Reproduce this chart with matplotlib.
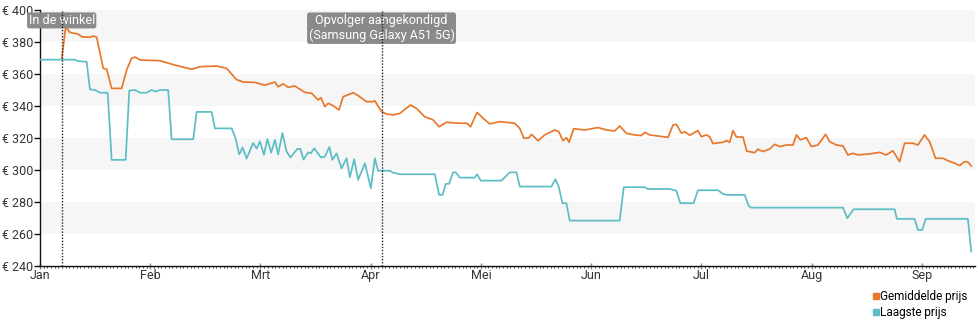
#!/usr/bin/env python3

import matplotlib as mpl
mpl.use('Agg')
import matplotlib.pyplot as plt
from matplotlib.lines import Line2D

#~~~~~~~~~~~~ Input ~~~~~~~~~~~~~~~~~~~~~~~

months = ['Jan', 'Feb', 'Mrt', 'Apr', 'Mei', 'Jun', 'Jul', 'Aug', 'Sep']
yticks = [240, 260, 280, 300, 320, 340, 360, 380, 400]

# time in months since 1 Jan (months drawn with equal width)
t_gem = [0.197, 0.233, 0.272, 0.347, 0.378, 0.453, 0.483, 0.514, 0.574, 0.605,
         0.650, 0.741, 0.786, 0.831, 0.861, 0.907, 1.013, 1.088, 1.224, 1.375,
         1.451, 1.602, 1.693, 1.783, 1.843, 1.949, 2.040, 2.131, 2.160, 2.206,
         2.251, 2.312, 2.403, 2.463, 2.523, 2.548, 2.584, 2.614, 2.659, 2.711,
         2.750, 2.840, 2.886, 2.962, 3.022, 3.037, 3.098, 3.143, 3.203, 3.264,
         3.361, 3.415, 3.490, 3.566, 3.620, 3.687, 3.808, 3.874, 3.905, 3.965,
         4.019, 4.080, 4.170, 4.306, 4.352, 4.388, 4.433, 4.458, 4.518, 4.578,
         4.669, 4.705, 4.744, 4.775, 4.799, 4.841, 4.941, 5.062, 5.138, 5.213,
         5.258, 5.319, 5.394, 5.455, 5.485, 5.530, 5.696, 5.742, 5.772, 5.818,
         5.848, 5.893, 5.968, 5.999, 6.044, 6.074, 6.104, 6.195, 6.226, 6.256,
         6.286, 6.317, 6.376, 6.410, 6.482, 6.512, 6.557, 6.618, 6.664, 6.709,
         6.770, 6.830, 6.861, 6.897, 6.951, 6.997, 7.056, 7.126, 7.162, 7.223,
         7.283, 7.328, 7.374, 7.419, 7.525, 7.616, 7.676, 7.736, 7.797, 7.842,
         7.917, 7.963, 8.023, 8.069, 8.123, 8.190, 8.235, 8.296, 8.341, 8.386,
         8.416, 8.447]
p_gem = [369.0, 389.6, 386.0, 385.0, 383.3, 383.0, 383.8, 383.0, 363.5, 363.0,
         351.0, 351.0, 362.5, 369.8, 370.6, 368.8, 368.5, 368.3, 365.6, 363.0,
         364.6, 365.0, 363.5, 356.5, 355.0, 354.8, 353.0, 355.0, 352.0, 353.8,
         351.7, 352.5, 348.5, 348.0, 343.8, 345.2, 339.6, 341.7, 340.2, 337.5,
         345.8, 348.3, 346.5, 342.7, 342.7, 343.3, 336.5, 335.0, 334.4, 335.4,
         340.6, 338.5, 333.3, 331.3, 327.0, 329.8, 329.2, 329.2, 327.0, 336.0,
         332.3, 328.8, 330.2, 329.2, 326.0, 319.8, 320.0, 322.3, 318.3, 321.9,
         325.0, 324.0, 318.3, 320.2, 317.3, 325.8, 325.0, 326.5, 325.0, 324.4,
         327.5, 322.9, 321.9, 321.5, 323.5, 321.9, 320.4, 328.1, 328.5, 323.0,
         323.9, 321.7, 324.6, 320.8, 321.9, 320.8, 316.5, 317.3, 318.3, 317.3,
         324.6, 320.6, 320.6, 311.8, 310.8, 313.0, 311.5, 313.1, 316.0, 314.6,
         315.6, 315.6, 321.9, 318.8, 320.2, 314.6, 315.6, 322.3, 317.7, 315.6,
         315.0, 309.4, 310.4, 309.4, 310.0, 311.0, 309.4, 312.0, 305.2, 316.7,
         316.7, 315.6, 321.9, 317.7, 307.3, 307.3, 305.8, 304.2, 302.7, 305.2,
         305.0, 302.5]

t_laag = [0.000, 0.317, 0.347, 0.423, 0.453, 0.499, 0.544, 0.614, 0.650, 0.777,
          0.810, 0.861, 0.907, 0.967, 1.013, 1.049, 1.088, 1.163, 1.194, 1.390,
          1.421, 1.557, 1.587, 1.738, 1.771, 1.807, 1.838, 1.874, 1.934, 1.965,
          1.995, 2.031, 2.063, 2.097, 2.131, 2.160, 2.199, 2.237, 2.271, 2.335,
          2.362, 2.391, 2.433, 2.457, 2.487, 2.548, 2.584, 2.625, 2.652, 2.690,
          2.735, 2.781, 2.811, 2.850, 2.886, 2.947, 3.001, 3.037, 3.067, 3.173,
          3.203, 3.264, 3.581, 3.620, 3.651, 3.681, 3.710, 3.747, 3.771, 3.808,
          3.944, 3.965, 3.998, 4.186, 4.261, 4.322, 4.352, 4.639, 4.675, 4.705,
          4.739, 4.775, 4.805, 5.258, 5.295, 5.485, 5.515, 5.712, 5.772, 5.808,
          5.929, 5.968, 6.150, 6.195, 6.226, 6.392, 6.428, 6.452, 7.283, 7.323,
          7.379, 7.752, 7.772, 7.933, 7.963, 8.003, 8.033, 8.416, 8.447]
p_laag = [369.0, 369.0, 368.0, 367.7, 350.4, 350.0, 348.3, 348.3, 306.3, 306.3,
          349.6, 350.0, 348.3, 348.3, 350.0, 349.0, 350.0, 350.0, 319.2, 319.2,
          336.3, 336.3, 326.0, 326.0, 320.5, 309.7, 314.1, 307.1, 316.9, 313.3,
          317.9, 309.4, 319.3, 310.8, 318.8, 309.7, 323.1, 311.5, 307.8, 313.2,
          313.2, 306.5, 311.0, 310.4, 313.5, 307.8, 308.3, 314.4, 306.3, 310.4,
          301.0, 307.3, 295.4, 306.7, 293.8, 304.2, 288.5, 307.3, 299.5, 299.5,
          298.3, 297.3, 297.3, 284.4, 284.4, 291.3, 291.3, 298.5, 298.5, 295.2,
          295.2, 297.3, 293.3, 293.3, 298.5, 298.5, 289.6, 289.6, 294.2, 289.6,
          279.2, 279.2, 268.3, 268.3, 289.2, 289.2, 288.1, 288.1, 287.0, 279.2,
          279.2, 287.3, 287.3, 285.0, 284.4, 284.4, 277.5, 276.4, 276.4, 269.8,
          275.4, 275.4, 269.4, 269.4, 262.5, 262.5, 269.4, 269.4, 249.0]

events = [0.197, 3.098]
event_labels = ['In de winkel', 'Opvolger aangekondigd\n(Samsung Galaxy A51 5G)']

c_gem = '#e8782c'
c_laag = '#5dbdc5'

#~~~~~~~~~~~~~~~~~~~~~~~~~~~~~~~~~~~~~~~~~~~

plt.rcParams['font.family'] = ['Roboto', 'DejaVu Sans']
plt.rcParams['font.size'] = 9

fig = plt.figure(figsize=(9.8, 3.25), dpi=100)
ax = fig.add_axes([0.0408, 0.182, 0.954, 0.787])

# alternating bands
for lo in yticks[1::2]:
	ax.axhspan(lo, lo + 20, color='#f6f6f6', lw=0, zorder=0)

ax.plot(t_gem, p_gem, color=c_gem, lw=1.25, zorder=3)
ax.plot(t_laag, p_laag, color=c_laag, lw=1.25, zorder=3)

for t, lab in zip(events, event_labels):
	ax.axvline(t, color='#222222', ls=(0, (1, 1.2)), lw=1.0, zorder=6)
	ax.text(t, 397.6, lab, ha='center', va='top', color='white', fontsize=9,
		linespacing=1.2, zorder=5,
		bbox=dict(boxstyle='round,pad=0.12,rounding_size=0.2', fc='#8a8a8a', ec='none'))

ax.set_xlim(0, 8.48)
ax.set_ylim(240, 400)
ax.set_xticks(range(len(months)))
ax.set_xticklabels(months)
ax.set_xticks([i / 30.0 for i in range(0, 255)], minor=True)
ax.set_yticks(yticks)
ax.set_yticklabels(['\u20ac %d' % v for v in yticks])

for s in ['top', 'right']:
	ax.spines[s].set_visible(False)
for s in ['left', 'bottom']:
	ax.spines[s].set_color('#111111')
	ax.spines[s].set_linewidth(1.0)

ax.tick_params(axis='y', length=4, width=1, color='#111111', pad=1, labelcolor='#333333', labelsize=9)
ax.tick_params(axis='x', which='major', direction='inout', length=5, width=1, color='#888888', pad=0, labelcolor='#333333', labelsize=9)
ax.tick_params(axis='x', which='minor', length=1.5, width=0.8, color='#555555')

handles = [Line2D([], [], marker='s', ls='none', color=c_gem, markersize=4.5),
		   Line2D([], [], marker='s', ls='none', color=c_laag, markersize=4.5)]
fig.legend(handles, ['Gemiddelde prijs', 'Laagste prijs'], loc='lower right',
		   bbox_to_anchor=(0.997, -0.01), frameon=False, fontsize=8.5,
		   handletextpad=-0.1, labelspacing=0.2, handlelength=1.0, borderpad=0.3)

fig.savefig('out.png', dpi=100)
